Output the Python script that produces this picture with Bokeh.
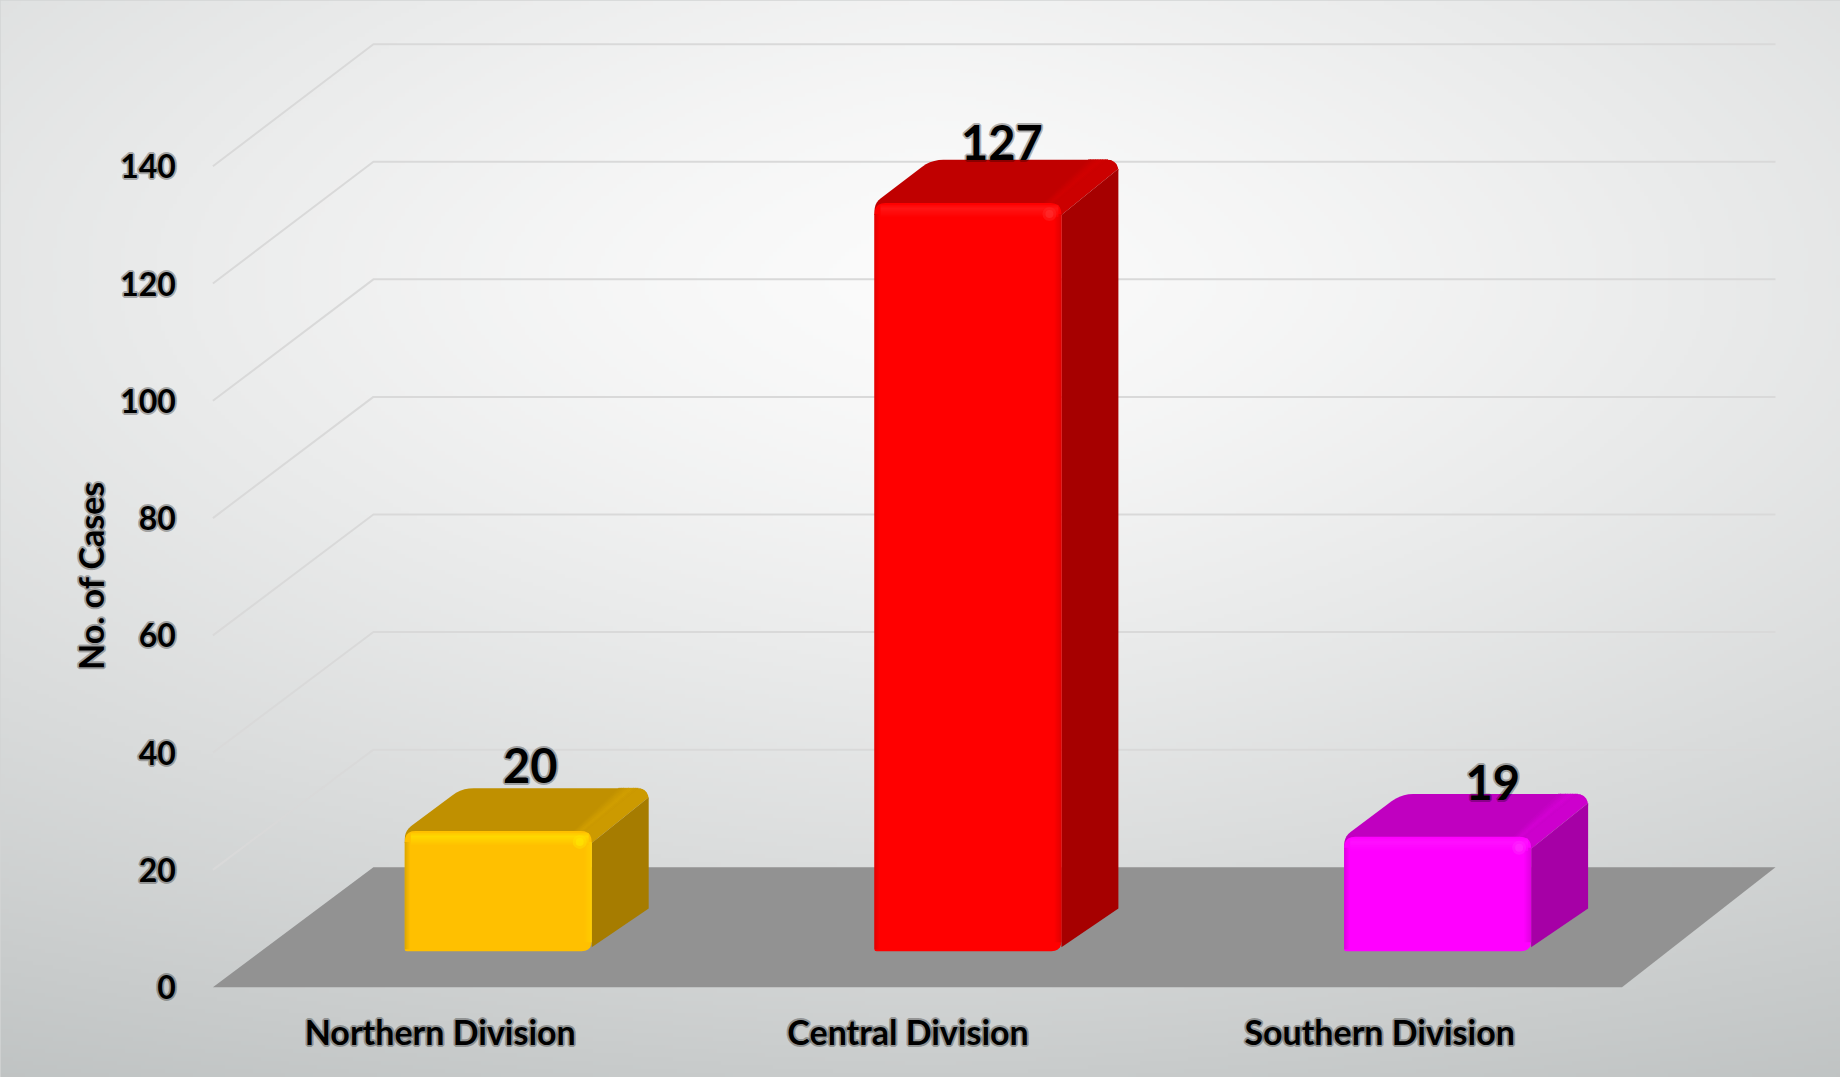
import numpy as np
from bokeh.plotting import figure
from bokeh.models import FixedTicker, Label
from bokeh.core.properties import value
from bokeh.embed import file_html
from bokeh.resources import INLINE

# ---- data ----
categories = ["Northern Division", "Central Division", "Southern Division"]
cases = [20, 127, 19]
y_ticks = [0, 20, 40, 60, 80, 100, 120, 140]

# ---- style ----
face = ["#ffc000", "#ff0000", "#ff00ff"]
top_face = ["#c09000", "#c00000", "#c000c0"]
top_bevel = ["#d2a000", "#d20000", "#d400d4"]
side_face = ["#a67c00", "#a60000", "#a600a6"]
top_glow = ["#ffd800", "#ff1414", "#ff14ff"]
spot = ["#ffe800", "#ff3030", "#ff30ff"]
left_edge = ["#d8a300", "#d80000", "#dc00dc"]
right_edge = ["#ffd000", "#d80000", "#e000e0"]
label_dx = [32, 34, 55]      # px, from the front face centre
label_dy = [-23, -17, -12]   # px, text position relative to the top-back edge
tick_nudge = [0.484, 0.480, 0.484]
font = "Lato"
soft = "#00000048"           # thin translucent stroke: gives the text its heavier weight

# ---- projection: category units / value units / depth -> data coordinates ----
W, H = 1840, 1077
X0, Y0 = 212.4, 986.7            # page px of the front-left floor corner
KX = 469.7                       # px per category
KY = 5.864                       # px per case
DEPTH_X, DEPTH_Y = 160.5, 120.0  # px for the whole floor depth
BACK_TRIM = 7.0 / KX             # the back wall is slightly narrower
BACK_SCALE = 0.0025              # and its value scale slightly larger
BAR_C, BAR_HW = 0.505, 0.199
DF, DB = 0.30, 0.655
TOP_EXTRA = 0.5


def P(c, v, d=0.0):
    return (c + d * DEPTH_X / KX, v * (1 + BACK_SCALE * d) + d * DEPTH_Y / KY)


def rounded(pts, radii, n=6):
    xs, ys = [], []
    m = len(pts)
    for i, (pt, r) in enumerate(zip(pts, radii)):
        p_ = np.array([pt[0] * KX, pt[1] * KY])
        a = np.array([pts[i - 1][0] * KX, pts[i - 1][1] * KY])
        b = np.array([pts[(i + 1) % m][0] * KX, pts[(i + 1) % m][1] * KY])
        if r <= 0:
            q = [p_]
        else:
            s = p_ + (a - p_) / np.linalg.norm(a - p_) * r
            e = p_ + (b - p_) / np.linalg.norm(b - p_) * r
            q = [(1 - t) ** 2 * s + 2 * t * (1 - t) * p_ + t ** 2 * e
                 for t in np.linspace(0, 1, n)]
        for z in q:
            xs.append(z[0] / KX)
            ys.append(z[1] / KY)
    return xs, ys


def mix(c1, c2, t):
    a = [int(c1[i:i + 2], 16) for i in (1, 3, 5)]
    b = [int(c2[i:i + 2], 16) for i in (1, 3, 5)]
    return "#%02x%02x%02x" % tuple(round(u + (w - u) * t) for u, w in zip(a, b))


x_start, x_end = -X0 / KX, (W - X0) / KX
y_start, y_end = (Y0 - H) / KY, Y0 / KY

p = figure(width=W, height=H, output_backend="svg", toolbar_location=None,
           x_range=(x_start, x_end), y_range=(y_start, y_end),
           min_border=0, outline_line_color="#d3d5d5", outline_line_width=4)
p.grid.visible = False

# ---- background shading ----
gh, gw = 270, 460
yy, xx = np.mgrid[0:gh, 0:gw]
u = np.abs(xx / (gw - 1) * 1840 - 930) / 930
t = (yy / (gh - 1) * 1077 - 280)
t = np.where(t > 0, t / 797, -t / 280 * 0.33)
lev = 251 - 22 * u ** 1.4 * (1 - 0.6 * t) - 50 * t ** 1.5
img = np.zeros((gh, gw, 4), dtype=np.uint8)
img[..., 0] = lev
img[..., 1] = lev + (251 - lev) * 0.06
img[..., 2] = lev + (251 - lev) * 0.06
img[..., 3] = 255
rgba = img.view(dtype=np.uint32).reshape(gh, gw)[::-1]
p.image_rgba(image=[rgba], x=x_start, y=y_start,
             dw=x_end - x_start, dh=y_end - y_start)

# ---- walls: gridlines ----
grid_xs, grid_ys = [], []
for v in y_ticks[1:]:
    a, b, c_ = P(0, v, 0), P(0, v, 1), P(3 - BACK_TRIM, v, 1)
    grid_xs.append([a[0], b[0], c_[0]])
    grid_ys.append([a[1], b[1], c_[1]])
p.multi_line(grid_xs, grid_ys, line_color="#d9d9d9", line_width=2)

# ---- floor ----
floor = [P(0, 0, 0), P(3, 0, 0), P(3 - BACK_TRIM, 0, 1), P(0, 0, 1)]
p.patch([q[0] for q in floor], [q[1] for q in floor],
        fill_color="#929292", line_color=None)


def quad(x1, x2, y1, y2, color):
    p.quad(left=[x1], right=[x2], bottom=[y1], top=[y2],
           fill_color=color, line_color=None)


# ---- bars ----
px_x, px_y = 1 / KX, 1 / KY
for i, val in enumerate(cases):
    L, R = i + BAR_C - BAR_HW, i + BAR_C + BAR_HW
    top = val + TOP_EXTRA
    A, B, C, D = P(L, 0, DF), P(R, 0, DF), P(R, top, DF), P(L, top, DF)
    E, F, G = P(R, 0, DB), P(R, top, DB), P(L, top, DB)
    bw = 30 * px_x
    drop = 12 * px_y
    C_low, F_low = (C[0], C[1] - drop), (F[0], F[1] - 9 * px_y)
    D_low = (D[0], D[1] - drop)
    # top face (carried a little below the front's top edge, under its round corners)
    xs, ys = rounded([D_low, C_low, F, G, D], [0, 0, 12, 12, 8])
    p.patch(xs, ys, fill_color=top_face[i], line_color=None)
    # bevel between the top face and the side face: a soft ridge
    band = mix(top_bevel[i], top_face[i], 0.35)
    xs, ys = rounded([(C[0] - 0.35 * bw * 0.6, C[1]), (F[0] - 0.35 * bw, F[1]), F, F_low, C_low],
                     [0, 0, 12, 0, 0])
    p.patch(xs, ys, fill_color=band, line_color=None)
    n_s = 8
    for j in range(n_s):
        s1 = 1 - 0.65 * j / n_s
        s2 = 1 - 0.65 * (j + 1) / n_s
        f = (j + 1) / n_s
        col = mix(top_face[i], top_bevel[i], min(1, f / 0.7)) if f < 0.7 else mix(top_bevel[i], band, (f - 0.7) / 0.3)
        p.patch([C[0] - s1 * bw * 0.6, F[0] - s1 * bw, F[0] - s2 * bw, C[0] - s2 * bw * 0.6],
                [C[1], F[1], F[1], C[1]], fill_color=col, line_color=col, line_width=0.5)
    # side
    side_b = (B[0], B[1] + 4 * px_y)
    xs, ys = rounded([C_low, F_low, E, side_b], [0, 0, 0, 0])
    p.patch(xs, ys, fill_color=side_face[i], line_color=None)
    # front
    xs, ys = rounded([A, B, C, D], [2, 10, 11, 11])
    p.patch(xs, ys, fill_color=face[i], line_color=None)
    # shading strips on the front
    xa, xb = A[0], B[0]
    ya, yb = A[1], C[1]
    for k in range(6):
        quad(xa + k * px_x, xa + (k + 1) * px_x, ya + 2 * px_y, yb - 11 * px_y,
             mix(left_edge[i], face[i], k / 5))
    for k in range(8):
        quad(xb - (k + 1) * px_x, xb - k * px_x, ya + 9 * px_y, yb - 11 * px_y,
             mix(right_edge[i], face[i], k / 7))
    for k in range(12):
        quad(xa + 6 * px_x, xb - 3 * px_x, yb - (k + 3) * px_y, yb - (k + 2) * px_y,
             mix(top_glow[i], face[i], abs(k - 3) / 9 if k > 3 else (3 - k) / 5))
    # small specular spot at the front's top-right corner
    p.scatter([xb - 12 * px_x], [yb - 11 * px_y], size=14, fill_color=spot[i],
              fill_alpha=0.35, line_color=None)
    p.scatter([xb - 12 * px_x], [yb - 11 * px_y], size=8, fill_color=spot[i],
              fill_alpha=0.6, line_color=None)

# ---- value labels ----
lab_x, lab_y, lab_t = [], [], []
for i, val in enumerate(cases):
    lx, ly = P(i + BAR_C, val + TOP_EXTRA, DB)
    lab_x.append(i + BAR_C + DF * DEPTH_X / KX + label_dx[i] / KX)
    lab_y.append(ly - label_dy[i] / KY)
    lab_t.append(str(val))
p.text(lab_x, lab_y, text=lab_t, text_font=value(font), text_font_style="bold",
       text_font_size="47px", text_color="#000000", text_outline_color=soft,
       text_align="center", text_baseline="alphabetic")

# ---- axes ----
p.yaxis.fixed_location = 0
p.yaxis.ticker = FixedTicker(ticks=y_ticks)
p.yaxis.axis_line_color = None
p.yaxis.major_tick_line_color = None
p.yaxis.minor_tick_line_color = None
p.yaxis.major_label_standoff = 31
p.yaxis.major_label_text_font = font
p.yaxis.major_label_text_font_style = "bold"
p.yaxis.major_label_text_font_size = "32px"
p.yaxis.major_label_text_color = "#000000"
p.yaxis.major_label_text_outline_color = soft
p.yaxis.major_label_orientation = "horizontal"

tick_pos = [i + n for i, n in enumerate(tick_nudge)]
p.xaxis.fixed_location = 0
p.xaxis.ticker = FixedTicker(ticks=tick_pos)
p.xaxis.major_label_overrides = dict(zip(tick_pos, categories))
p.xaxis.axis_line_color = None
p.xaxis.major_tick_line_color = None
p.xaxis.minor_tick_line_color = None
p.xaxis.major_label_standoff = 18
p.xaxis.major_label_text_font = font
p.xaxis.major_label_text_font_style = "bold"
p.xaxis.major_label_text_font_size = "34px"
p.xaxis.major_label_text_color = "#000000"
p.xaxis.major_label_text_outline_color = soft

p.add_layout(Label(x=(90 - X0) / KX, y=(Y0 - 575) / KY, text="No. of Cases", angle=np.pi / 2,
                   text_font=font, text_font_style="bold", text_font_size="34px",
                   text_color="#000000", text_outline_color=soft,
                   text_align="center", text_baseline="middle"))

open("out.html", "w").write(file_html(p, INLINE))
